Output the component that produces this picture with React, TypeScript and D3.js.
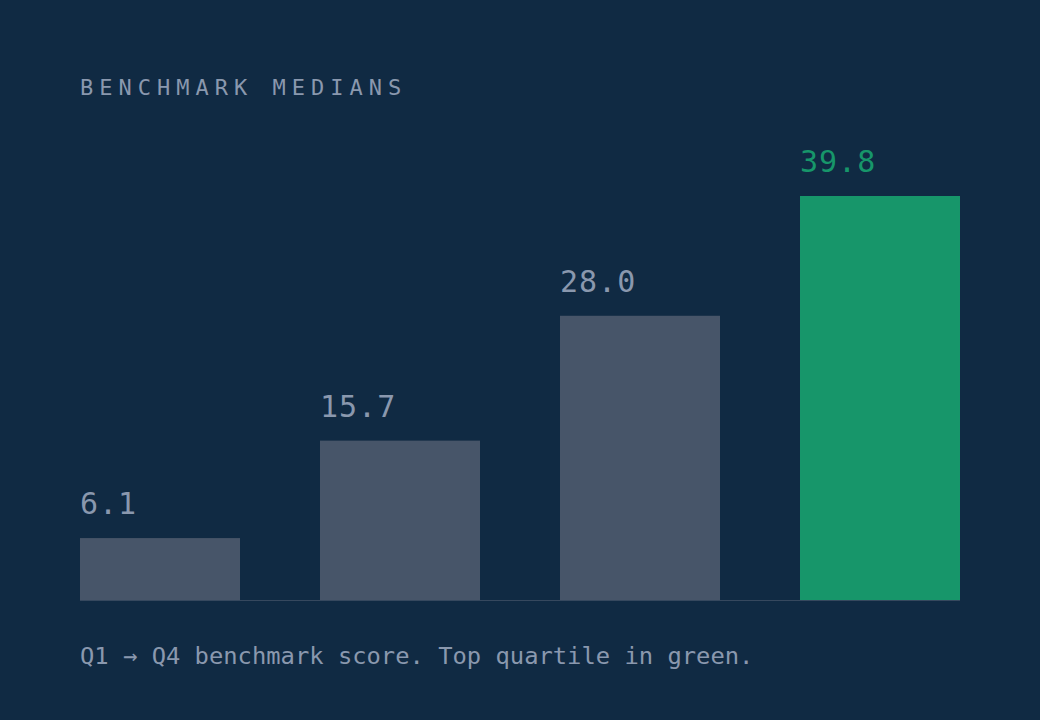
import { useEffect } from "react";
import * as d3 from "d3";

const quartiles = ["Q1", "Q2", "Q3", "Q4"];
const medians = [6.1, 15.7, 28.0, 39.8];
const title = "BENCHMARK MEDIANS";
const caption = "Q1 → Q4 benchmark score. Top quartile in green.";

const W = 1040;
const H = 720;
const FONT = "'DejaVu Sans Mono', monospace";

export default function App() {
  useEffect(() => {
    document.body.style.margin = "0";
    document.body.style.background = "#102a43";
  }, []);

  const x = d3.scaleBand<string>().domain(quartiles).range([80, 960]).paddingInner(1 / 3).paddingOuter(0);
  const y = d3.scaleLinear().domain([0, d3.max(medians)!]).range([600, 196]);
  const top = quartiles.length - 1;

  return (
    <svg width={W} height={H} style={{ display: "block", background: "#102a43" }}>
      <text x={80} y={95} fill="#8a98ae" fontFamily={FONT} fontSize={22} letterSpacing={6}>
        {title}
      </text>

      {quartiles.map((q, i) => {
        const v = medians[i];
        const color = i === top ? "#17966a" : "#475569";
        return (
          <g key={q}>
            <rect x={x(q)} y={y(v)} width={x.bandwidth()} height={y(0) - y(v)} fill={color} />
            <text
              x={x(q)}
              y={y(v) - 24}
              fill={i === top ? "#17966a" : "#8a98ae"}
              fontFamily={FONT}
              fontSize={30}
              letterSpacing={1}
            >
              {v.toFixed(1)}
            </text>
          </g>
        );
      })}

      <line x1={80} x2={960} y1={y(0) + 0.5} y2={y(0) + 0.5} stroke="#475569" strokeOpacity={0.7} />

      <text x={80} y={664} fill="#8a98ae" fontFamily={FONT} fontSize={23.8}>
        {caption}
      </text>
    </svg>
  );
}
